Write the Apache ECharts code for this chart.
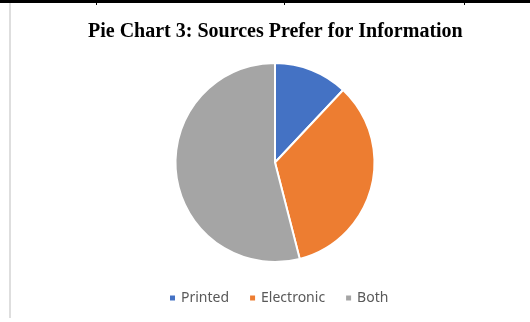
<!DOCTYPE html>
<html>
<head>
<meta charset="utf-8">
<script src="https://cdn.jsdelivr.net/npm/echarts@6/dist/echarts.min.js"></script>
<style>
html, body { margin: 0; padding: 0; background: #fff; }
#main { width: 530px; height: 322px; }
</style>
</head>
<body>
<div id="main"></div>
<script>
var categories = ['Printed', 'Electronic', 'Both'];
var values = [12, 34, 54];
var colors = ['#4472c4', '#ed7d31', '#a5a5a5'];

var chart = echarts.init(document.getElementById('main'));

var pieData = categories.map(function (name, i) {
    return { name: name, value: values[i], itemStyle: { color: colors[i] } };
});

option = {
    animation: false,
    title: {
        text: 'Pie Chart 3: Sources Prefer for Information',
        left: 83,
        top: 17,
        textStyle: {
            fontFamily: 'Liberation Serif',
            fontWeight: 'bold',
            fontSize: 20,
            color: '#000'
        }
    },
    legend: {
        bottom: 12,
        left: 163,
        icon: 'rect',
        itemWidth: 7,
        itemHeight: 7,
        itemGap: 19,
        textStyle: { fontFamily: 'Noto Sans', fontSize: 14, color: '#595959' },
        data: categories
    },
    // frame lines of the surrounding table
    graphic: [
        { type: 'rect', shape: { x: 0, y: 0, width: 530, height: 3 }, style: { fill: '#000' } },
        { type: 'rect', shape: { x: 96, y: 0, width: 1, height: 5 }, style: { fill: '#000' } },
        { type: 'rect', shape: { x: 284, y: 0, width: 1, height: 5 }, style: { fill: '#000' } },
        { type: 'rect', shape: { x: 464, y: 0, width: 1, height: 5 }, style: { fill: '#000' } },
        { type: 'rect', shape: { x: 9, y: 3, width: 2, height: 315 }, style: { fill: '#dedede' } }
    ],
    series: [
        {
            type: 'pie',
            center: [275, 162.5],
            radius: 99.5,
            startAngle: 90,
            clockwise: true,
            label: { show: false },
            labelLine: { show: false },
            itemStyle: { borderColor: '#fff', borderWidth: 2 },
            emphasis: { disabled: true },
            data: pieData
        }
    ]
};
chart.setOption(option);
</script>
</body>
</html>
